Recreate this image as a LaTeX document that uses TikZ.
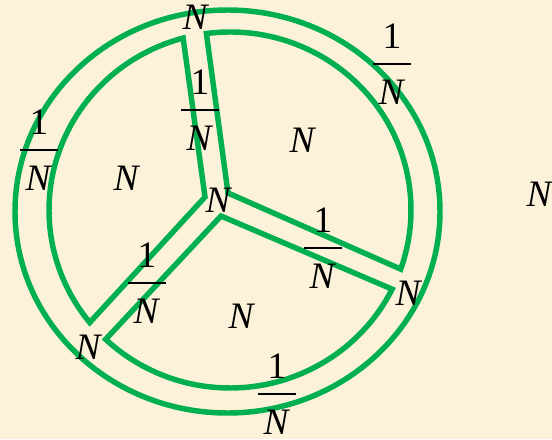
\documentclass[tikz,border=0pt]{standalone}
\usepackage{fontspec}
\setmainfont{Liberation Serif}
\usepackage{tikz}
\usetikzlibrary{calc}
\definecolor{cellgreen}{HTML}{00B050}
\definecolor{paper}{HTML}{FCF2DA}
\setlength{\arrayrulewidth}{1.5pt}
\newcommand{\invN}{\begin{tabular}{@{\hspace{4pt}}c@{\hspace{4pt}}}1\\[2pt]\hline\rule{0pt}{30pt}\textit{N}\end{tabular}}

\begin{document}
\begin{tikzpicture}[x=0.75pt,y=-0.75pt]
\tikzstyle{wall}=[draw=cellgreen,line width=4.1pt]
\tikzstyle{lab}=[inner sep=0pt,font=\fontsize{28}{30}\selectfont]
\fill[paper] (0,0) rectangle (552,439);
\clip (0,0) rectangle (552,439);
% centres of the rings and the three corners of the junction
\coordinate (o) at (230,210);
\coordinate (oo) at (227.5,211.5);
\coordinate (ya) at (205,197);
\coordinate (yb) at (228,193);
\coordinate (yc) at (221,216);
\draw[wall] (oo) ellipse [x radius=212.5,y radius=201.5];
\draw[wall] (ya) -- ($(o)+(-105:181 and 178)$) arc[start angle=-105,end angle=-219.2,x radius=181,y radius=178] -- cycle;
\draw[wall] (yb) -- ($(o)+(-97.5:181 and 178)$) arc[start angle=-97.5,end angle=19.4,x radius=181,y radius=178] -- cycle;
\draw[wall] (yc) -- ($(o)+(26.4:181 and 178)$) arc[start angle=26.4,end angle=133.4,x radius=181,y radius=178] -- cycle;
% labels
\node[lab] (nTop) at (196,17) {\textit{N}};
\node[lab] (nTL) at (127,178) {\textit{N}};
\node[lab] (nTR) at (303,140) {\textit{N}};
\node[lab] (nBot) at (242,316) {\textit{N}};
\node[lab] (nMid) at (219,200) {\textit{N}};
\node[lab] (nLL) at (89,347) {\textit{N}};
\node[lab] (nLR) at (409,293) {\textit{N}};
\node[lab] (nFar) at (540,194) {\textit{N}};
\node[lab] (fLeft) at (39,154.5) {\invN};
\node[lab] (fTop) at (200,114.5) {\invN};
\node[lab] (fTR) at (392,68.5) {\invN};
\node[lab] (fLL) at (147,287.5) {\invN};
\node[lab] (fLR) at (323,252.5) {\invN};
\node[lab] (fBot) at (277,398.5) {\invN};
\end{tikzpicture}
\end{document}
